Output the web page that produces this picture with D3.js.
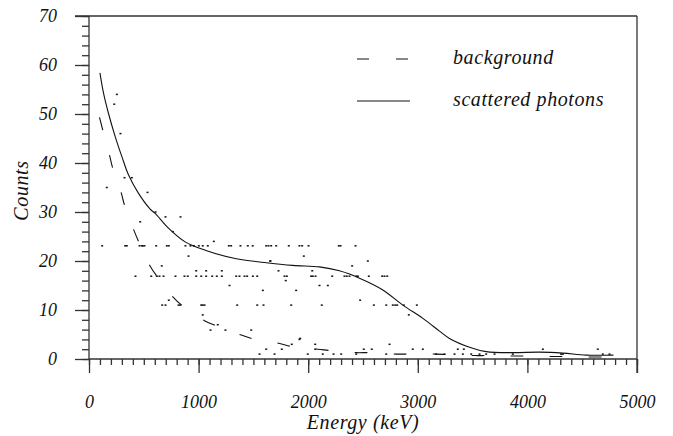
<!DOCTYPE html>
<html>
<head>
<meta charset="utf-8">
<script src="https://cdn.jsdelivr.net/npm/d3@7"></script>
<style>
  body { margin: 0; background: #fff; }
</style>
</head>
<body>
<div id="chart"></div>
<script>
// tick labels
const xTicks = [0, 1000, 2000, 3000, 4000, 5000]
const yTicks = [0, 10, 20, 30, 40, 50, 60, 70]

// fitted curves [energy keV, counts]
const scattered = [[100,58.4],[133,54.2],[178,50.1],[239,45.4],[300,41.3],[360,37.6],[452,33.8],[558,30.6],
  [604,29.7],[725,26.7],[877,23.9],[1060,22.2],[1334,20.5],[1600,19.7],[1860,19.1],[2103,18.8],[2285,18.0],
  [2468,16.5],[2681,14.1],[2863,11.0],[3046,8.3],[3198,5.7],[3289,4.2],[3472,2.4],[3624,1.5],[3867,1.3],
  [4110,1.4],[4323,1.2],[4536,0.8],[4785,0.8]]

const background = [[96,49.3],[126,46.7],[187,41.6],[217,38.9],[294,33.9],[324,31.4],[409,26.3],[454,23.9],
  [552,19.2],[619,16.9],[765,12.7],[856,10.8],[1054,7.8],[1170,6.7],[1389,4.9],[1495,4.1],[1732,3.2],
  [1859,2.5],[2088,2.0],[2210,1.7],[2438,1.3],[2559,1.3],[2803,1.0],[2918,1.0],[3168,1.0],[3274,0.9],
  [3517,0.7],[3639,0.7],[3867,0.6],[3989,0.6],[4232,0.5],[4354,0.5],[4582,0.4],[4785,0.4]]

// measured points, grouped by count level
const lvl23 = [120,330,345,461,482,491,506,613,710,728,880,926,956,1002,1038,1084,1276,1297,1382,1449,1494,
  1617,1638,1662,1708,1823,1920,1945,2003,2279,2295,2432]
const lvl17 = [424,568,619,643,680,789,871,901,978,1024,1069,1124,1166,1212,1343,1373,1419,1443,1495,1535,
  1784,1805,2027,2042,2067,2219,2331,2352,2377,2438,2453,2553,2675,2696,2721]
const lvl11 = [668,698,817,832,1024,1038,1054,1352,1535,1592,1845,2124,2599,2712,2772,2794,2812,2872,2991]
const lvl2 = [1617,1759,2064,2507,2580,2954,3046,3365,3420,4141,4642]
const lvl1 = [1556,1693,1996,2133,2231,2301,2438,2712,3168,3244,3335,3411,3487,3563,3624,3700,3867,4308,
  4323,4688,4749]
const others = [[230,52],[254,54],[287,46],[162,35],[324,37],[391,37],[534,34],[607,30],[698,29],[835,29],
  [467,28],[765,26],[1139,24],[908,21],[1653,20],[1960,21],[664,19],[978,18],[1069,18],[1212,18],[1729,18],
  [2037,18],[1795,16],[1282,15],[1586,14],[1890,14],[2103,15],[2179,15],[728,12],[1038,9],[1175,7],
  [1109,5.9],[1245,5.9],[1480,5.9],[1920,4],[2064,3],[1850,3],[1656,20],[2544,20],[2401,19],[2474,12],
  [2918,9],[1927,4.2],[2742,3]]

const points = [].concat(
  lvl23.map(e => [e, 23.1]),
  lvl17.map(e => [e, 16.9]),
  lvl11.map(e => [e, 11.0]),
  lvl2.map(e => [e, 2.0]),
  lvl1.map(e => [e, 1.0]),
  others)

const legendItems = [
  { label: "background", dash: "12,27" },
  { label: "scattered photons", dash: null }
]

const serif = "'Liberation Serif', 'Times New Roman', Tinos, 'DejaVu Serif', serif"

const margin = { top: 16, right: 36, bottom: 77, left: 89 },
  width = 673 - margin.left - margin.right,
  height = 436 - margin.top - margin.bottom

const svg = d3.select("#chart").append("svg")
  .attr("width", 673).attr("height", 436)
  .append("g")
  .attr("transform", `translate(${margin.left}, ${margin.top})`)

const x = d3.scaleLinear().domain([0, 5000]).range([0, width])
const y = d3.scaleLinear().domain([0, 70]).range([height, 0])

const axisColor = "#333"

// minor ticks
svg.append("g").attr("class", "minor")
  .attr("transform", `translate(0, ${height})`)
  .call(d3.axisBottom(x).tickValues(d3.range(0, 5001, 100)).tickSize(6).tickFormat(""))
svg.append("g").attr("class", "minor")
  .call(d3.axisLeft(y).tickValues(d3.range(0, 71, 2)).tickSize(7).tickFormat(""))

// major ticks
svg.append("g").attr("class", "major")
  .attr("transform", `translate(0, ${height})`)
  .call(d3.axisBottom(x).tickValues(xTicks).tickSize(14).tickPadding(22).tickFormat(d3.format("d")))
svg.append("g").attr("class", "major")
  .call(d3.axisLeft(y).tickValues(yTicks).tickSize(14).tickPadding(18))

svg.selectAll(".domain").remove()
svg.selectAll(".tick line").attr("stroke", axisColor).attr("stroke-width", 1.3)
svg.selectAll(".major").attr("font-family", serif)
svg.selectAll(".major text").attr("font-size", 18).attr("font-style", "italic").attr("fill", "#111")

// frame lines
svg.append("line").attr("x1", -14).attr("x2", width).attr("y1", 0).attr("y2", 0)
  .attr("stroke", axisColor).attr("stroke-width", 1.3)
svg.append("line").attr("x1", 0).attr("x2", width).attr("y1", height).attr("y2", height)
  .attr("stroke", axisColor).attr("stroke-width", 1.3)
svg.append("line").attr("x1", 0).attr("x2", 0).attr("y1", 0).attr("y2", height)
  .attr("stroke", axisColor).attr("stroke-width", 1.3)
svg.append("line").attr("x1", width).attr("x2", width).attr("y1", 0).attr("y2", height + 14)
  .attr("stroke", axisColor).attr("stroke-width", 1.3)

// points
svg.append("g").selectAll("rect")
  .data(points)
  .join("rect")
  .attr("x", d => x(d[0]) - 1)
  .attr("y", d => y(d[1]) - 0.75)
  .attr("width", 2)
  .attr("height", 1.5)
  .attr("fill", "#111")

const line = d3.line().x(d => x(d[0])).y(d => y(d[1])).curve(d3.curveCatmullRom.alpha(0.5))

svg.append("path").datum(scattered)
  .attr("d", line).attr("fill", "none").attr("stroke", "#111").attr("stroke-width", 1.1)
svg.append("path").datum(background)
  .attr("d", line).attr("fill", "none").attr("stroke", "#111").attr("stroke-width", 1.1)
  .attr("stroke-dasharray", "13,26")

// legend
const legend = svg.append("g").attr("transform", "translate(268, 43)")
  .attr("font-family", serif).attr("font-style", "italic")
legendItems.forEach((d, i) => {
  const g = legend.append("g").attr("transform", `translate(0, ${i * 42})`)
  g.append("line").attr("x1", 0).attr("x2", 53).attr("y1", 0).attr("y2", 0)
    .attr("stroke", "#111").attr("stroke-width", 1.1)
    .attr("stroke-dasharray", d.dash)
  g.append("text").attr("x", 96).attr("y", 5).attr("font-size", 20)
    .attr("letter-spacing", 0.6).attr("fill", "#111").text(d.label)
})

// axis titles
svg.append("text")
  .attr("x", width / 2).attr("y", height + 70)
  .attr("text-anchor", "middle")
  .attr("font-family", serif).attr("font-style", "italic").attr("font-size", 20)
  .attr("letter-spacing", 0.6).attr("fill", "#111")
  .text("Energy (keV)")
svg.append("text")
  .attr("transform", `translate(${-61}, ${height / 2 + 3}) rotate(-90)`)
  .attr("text-anchor", "middle")
  .attr("font-family", serif).attr("font-style", "italic").attr("font-size", 20)
  .attr("letter-spacing", 0.6).attr("fill", "#111")
  .text("Counts")
</script>
</body>
</html>
